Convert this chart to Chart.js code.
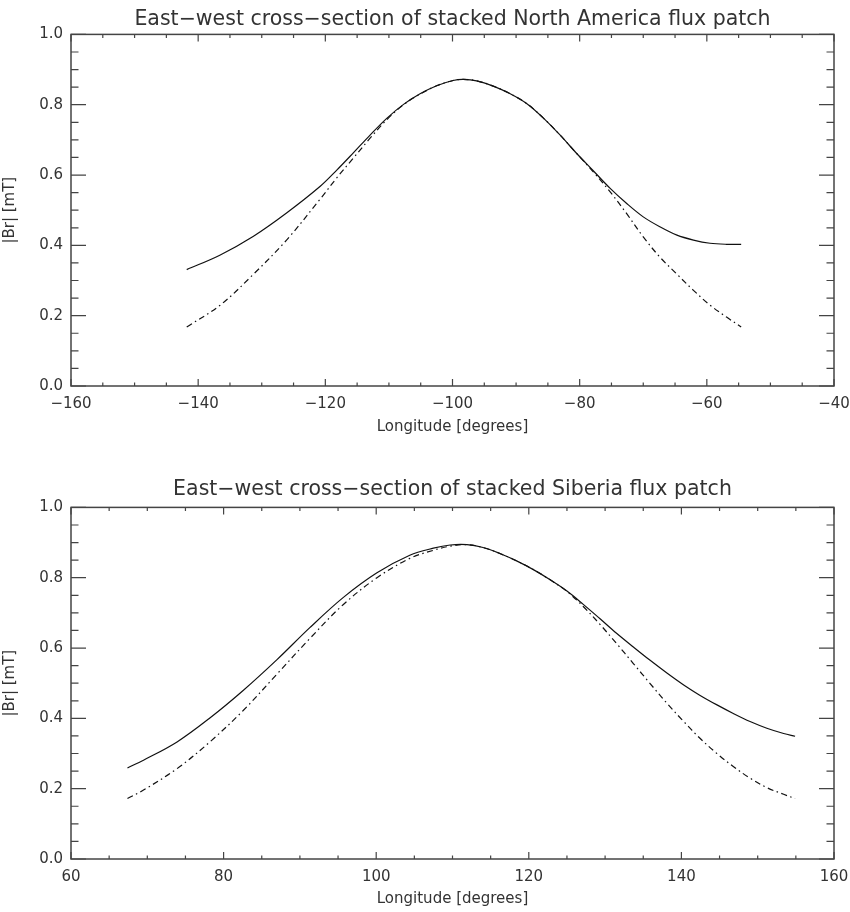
<!DOCTYPE html>
<html><head><meta charset="utf-8">
<script src="https://cdn.jsdelivr.net/npm/chart.js@4.4.1/dist/chart.umd.min.js"></script>
<style>
html,body{margin:0;padding:0;background:#fff;}
.wrap{position:relative;width:850px;height:456px;}
canvas{display:block;}
</style></head><body>
<div class="wrap"><canvas id="c1" width="850" height="456"></canvas></div>
<div class="wrap"><canvas id="c2" width="850" height="456"></canvas></div>
<script>
// ---------- data ----------
const topTitle = 'East\u2212west cross\u2212section of stacked North America flux patch';
const bottomTitle = 'East\u2212west cross\u2212section of stacked Siberia flux patch';
const xAxisTitle = 'Longitude [degrees]';
const yAxisTitle = '|Br| [mT]';

const topLon = [-141.8,-136.6,-131.3,-126.1,-120.8,-118.2,-115.6,-113.0,-110.3,-107.7,-105.1,-102.5,-99.9,-98.3,-96.2,-93.6,-91.0,-88.3,-85.7,-83.1,-80.5,-77.9,-75.2,-72.6,-70.0,-67.4,-64.7,-62.1,-59.5,-56.9,-54.6];
const topSolid = [0.331,0.372,0.426,0.492,0.568,0.614,0.663,0.713,0.762,0.801,0.831,0.854,0.869,0.872,0.868,0.853,0.832,0.803,0.762,0.714,0.662,0.613,0.562,0.519,0.481,0.453,0.429,0.415,0.406,0.403,0.403];
const topDashDot = [0.168,0.229,0.318,0.415,0.532,0.592,0.648,0.704,0.758,0.800,0.830,0.854,0.869,0.872,0.868,0.853,0.832,0.803,0.762,0.714,0.662,0.610,0.552,0.490,0.424,0.367,0.318,0.272,0.230,0.196,0.168];

const bottomLon = [67.4,69.5,73.9,78.2,82.6,87.0,91.3,95.7,100.1,104.4,107.5,109.7,111.9,114.0,116.2,118.4,120.6,122.8,125.0,127.1,129.3,131.5,133.7,135.9,138.1,140.3,142.4,144.6,146.8,149.0,151.2,153.4,154.9];
const bottomSolid = [0.259,0.281,0.333,0.401,0.480,0.567,0.658,0.744,0.814,0.864,0.884,0.893,0.894,0.886,0.869,0.848,0.823,0.794,0.762,0.725,0.684,0.642,0.603,0.565,0.529,0.495,0.466,0.439,0.414,0.391,0.372,0.357,0.349];
const bottomDashDot = [0.172,0.196,0.257,0.333,0.423,0.526,0.627,0.724,0.800,0.855,0.878,0.890,0.894,0.886,0.869,0.848,0.823,0.794,0.761,0.719,0.668,0.613,0.556,0.499,0.443,0.391,0.344,0.301,0.263,0.230,0.203,0.184,0.172];

const topXTicks = [-160,-140,-120,-100,-80,-60,-40];
const topXTickLabels = ['\u2212160','\u2212140','\u2212120','\u2212100','\u221280','\u221260','\u221240'];
const bottomXTicks = [60,80,100,120,140,160];
const bottomXTickLabels = ['60','80','100','120','140','160'];
const yTicks = [0,0.2,0.4,0.6,0.8,1.0];
const yTickLabels = ['0.0','0.2','0.4','0.6','0.8','1.0'];

// ---------- styling ----------
const FONT = "'DejaVu Sans', sans-serif";
const TEXT = '#333';
const AXIS = '#444';
const LINE = '#111';

const idlAxes = {
  id: 'idlAxes',
  afterDatasetsDraw(chart, args, o) {
    const {ctx, chartArea: a, scales: {x, y}} = chart;
    ctx.save();
    ctx.strokeStyle = AXIS;
    ctx.lineWidth = 1.5;
    ctx.strokeRect(a.left, a.top, a.right - a.left, a.bottom - a.top);
    ctx.lineWidth = 1.2;
    ctx.beginPath();
    const nx = Math.round((x.max - x.min) / o.xMinor);
    for (let i = 0; i <= nx; i++) {
      const v = x.min + i * o.xMinor;
      const px = x.getPixelForValue(v);
      const len = (i % o.xEvery === 0) ? 7 : 3.5;
      ctx.moveTo(px, a.bottom); ctx.lineTo(px, a.bottom - len);
      ctx.moveTo(px, a.top); ctx.lineTo(px, a.top + len);
    }
    const ny = Math.round((y.max - y.min) / o.yMinor);
    for (let i = 0; i <= ny; i++) {
      const v = y.min + i * o.yMinor;
      const py = y.getPixelForValue(v);
      const len = (i % o.yEvery === 0) ? 15 : 7.5;
      ctx.moveTo(a.left, py); ctx.lineTo(a.left + len, py);
      ctx.moveTo(a.right, py); ctx.lineTo(a.right - len, py);
    }
    ctx.stroke();
    ctx.restore();
  }
};

function pts(xs, ys) { return xs.map((v, i) => ({x: v, y: ys[i]})); }

function makeChart(id, p) {
  return new Chart(document.getElementById(id), {
    type: 'line',
    data: {
      datasets: [
        {data: pts(p.lon, p.solid), borderColor: LINE, borderWidth: 1.2, pointRadius: 0, tension: 0.35, fill: false},
        {data: pts(p.lon, p.dash), borderColor: LINE, borderWidth: 1.2, borderDash: [6, 3.5, 1.5, 3.5], pointRadius: 0, tension: 0.35, fill: false}
      ]
    },
    options: {
      responsive: false,
      animation: false,
      events: [],
      layout: {padding: {left: 0, right: 16, top: 0, bottom: 0}},
      plugins: {
        legend: {display: false},
        tooltip: {enabled: false},
        title: {display: true, fullSize: false, text: p.title, color: TEXT,
          font: {family: FONT, size: 20.5, weight: 'normal', lineHeight: 1.2},
          padding: {top: p.titleTop, bottom: p.titleBottom}},
        idlAxes: {xMinor: 5, xEvery: 4, yMinor: 0.05, yEvery: 4}
      },
      scales: {
        x: {
          type: 'linear', min: p.xmin, max: p.xmax,
          grid: {display: false, drawTicks: false},
          border: {display: false},
          afterBuildTicks: s => { s.ticks = p.xticks.map(v => ({value: v})); },
          afterFit: s => { s.height = p.xHeight; s.paddingLeft = 0; s.paddingRight = 0; },
          ticks: {color: TEXT, font: {family: FONT, size: 15, lineHeight: 1.2}, padding: 9.5, maxRotation: 0, autoSkip: false,
            callback: (v, i) => p.xlabels[i]},
          title: {display: true, text: xAxisTitle, color: TEXT, font: {family: FONT, size: 15, lineHeight: 1.2}, padding: {top: 0, bottom: p.xTitlePad}}
        },
        y: {
          type: 'linear', min: 0, max: 1,
          grid: {display: false, drawTicks: false},
          border: {display: false},
          afterBuildTicks: s => { s.ticks = yTicks.map(v => ({value: v})); },
          afterFit: s => { s.width = 71; s.paddingTop = 0; s.paddingBottom = 0; },
          ticks: {color: TEXT, font: {family: FONT, size: 15, lineHeight: 1.2}, padding: 8, autoSkip: false,
            callback: (v, i) => yTickLabels[i]},
          title: {display: true, text: yAxisTitle, color: TEXT, font: {family: FONT, size: 15, lineHeight: 1.2}, padding: {top: 1, bottom: 0}}
        }
      }
    },
    plugins: [idlAxes]
  });
}

makeChart('c1', {
  title: topTitle, titleTop: 7.4, titleBottom: 2.4,
  lon: topLon, solid: topSolid, dash: topDashDot,
  xmin: -160, xmax: -40, xticks: topXTicks, xlabels: topXTickLabels,
  xHeight: 70, xTitlePad: 20
});
makeChart('c2', {
  title: bottomTitle, titleTop: 21.4, titleBottom: 5.4,
  lon: bottomLon, solid: bottomSolid, dash: bottomDashDot,
  xmin: 60, xmax: 160, xticks: bottomXTicks, xlabels: bottomXTickLabels,
  xHeight: 53, xTitlePad: 4
});
</script>
</body></html>
